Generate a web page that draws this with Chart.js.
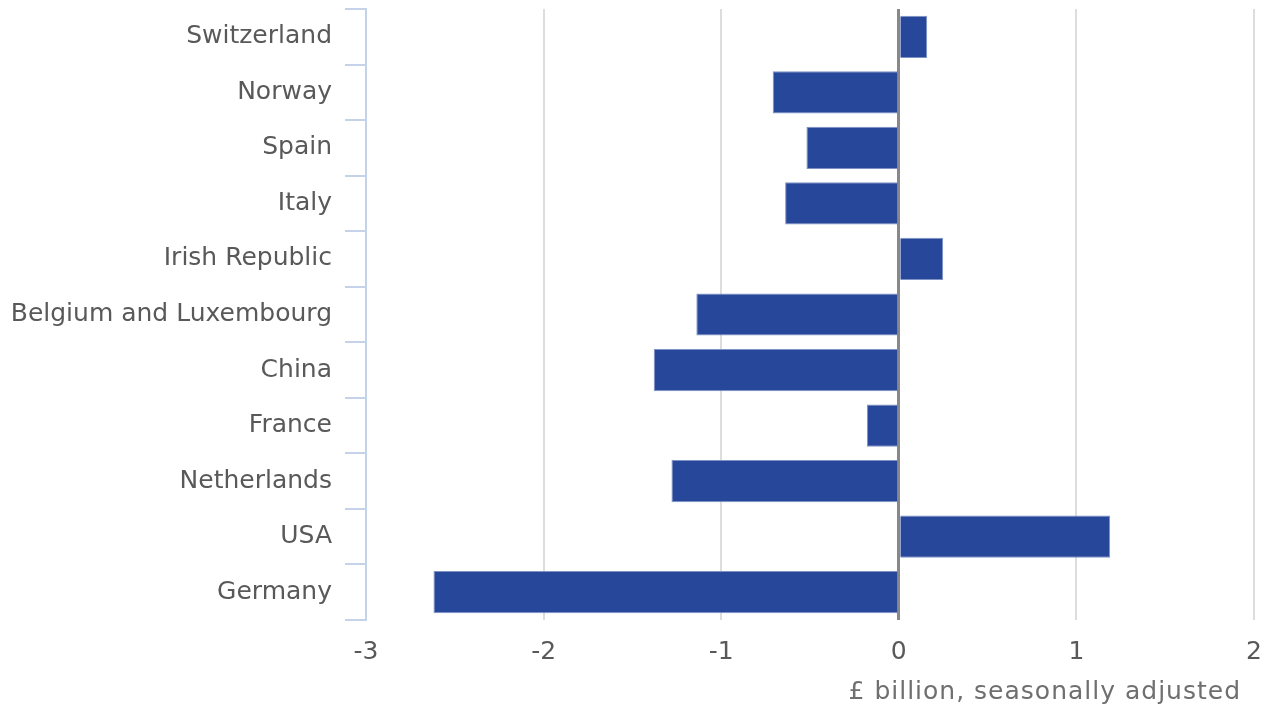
<!DOCTYPE html>
<html>
<head>
<meta charset="utf-8">
<script src="https://cdn.jsdelivr.net/npm/chart.js@4"></script>
<style>
  html, body { margin: 0; padding: 0; background: #fff; }
  #wrap { width: 1266px; height: 708px; }
</style>
</head>
<body>
<div id="wrap"><canvas id="chart"></canvas></div>
<script>
const countries = ['Switzerland', 'Norway', 'Spain', 'Italy', 'Irish Republic',
  'Belgium and Luxembourg', 'China', 'France', 'Netherlands', 'USA', 'Germany'];
const balance = [0.16, -0.71, -0.52, -0.64, 0.25, -1.14, -1.38, -0.18, -1.28, 1.19, -2.62];
const xTicks = [-3, -2, -1, 0, 1, 2];
const xTitle = '£ billion, seasonally adjusted';

Chart.defaults.font.family = 'DejaVu Sans';
Chart.defaults.font.size = 25;
Chart.defaults.color = '#595959';

// axis title drawn under the ticks, right aligned a little inside the plot
const titlePlugin = {
  id: 'xTitle',
  afterDraw(chart) {
    const c = chart.ctx;
    c.save();
    c.font = '25px "DejaVu Sans"';
    c.letterSpacing = '1px';
    c.fillStyle = '#6f6f6f';
    c.textAlign = 'right';
    c.textBaseline = 'middle';
    c.fillText(xTitle, chart.chartArea.right - 13, 692);
    c.restore();
  }
};

const ctx = document.getElementById('chart');

new Chart(ctx, {
  type: 'bar',
  data: {
    labels: countries,
    datasets: [{
      data: balance,
      backgroundColor: '#27479a',
      borderColor: '#7f92c6',
      borderWidth: 1,
      barPercentage: 0.76,
      categoryPercentage: 1
    }]
  },
  options: {
    indexAxis: 'y',
    responsive: true,
    maintainAspectRatio: false,
    animation: false,
    layout: { padding: { top: 9, right: 12, left: 0, bottom: 0 } },
    plugins: {
      legend: { display: false },
      tooltip: { enabled: false }
    },
    scales: {
      x: {
        min: -3,
        max: 2,
        afterBuildTicks: function (scale) {
          scale.ticks = xTicks.map(v => ({ value: v }));
        },
        afterFit: function (scale) {
          scale.height = 88;
          scale.paddingLeft = 0;
          scale.paddingRight = 0;
        },
        border: { display: false },
        grid: {
          drawTicks: false,
          color: c => c.tick.value === 0 ? '#888888' : (c.tick.value === -3 ? 'rgba(0,0,0,0)' : '#dddddd'),
          lineWidth: c => c.tick.value === 0 ? 3 : 2
        },
        ticks: { padding: 17, color: '#595959' }
      },
      y: {
        afterFit: function (scale) {
          scale.width = 366;
          scale.paddingTop = 0;
          scale.paddingBottom = 0;
        },
        border: { display: true, color: '#c5d3e8', width: 2 },
        grid: {
          offset: true,
          drawOnChartArea: false,
          color: '#c5d3e8',
          lineWidth: 2,
          tickLength: 21
        },
        ticks: { padding: 13, color: '#595959' }
      }
    }
  },
  plugins: [titlePlugin]
});
</script>
</body>
</html>
